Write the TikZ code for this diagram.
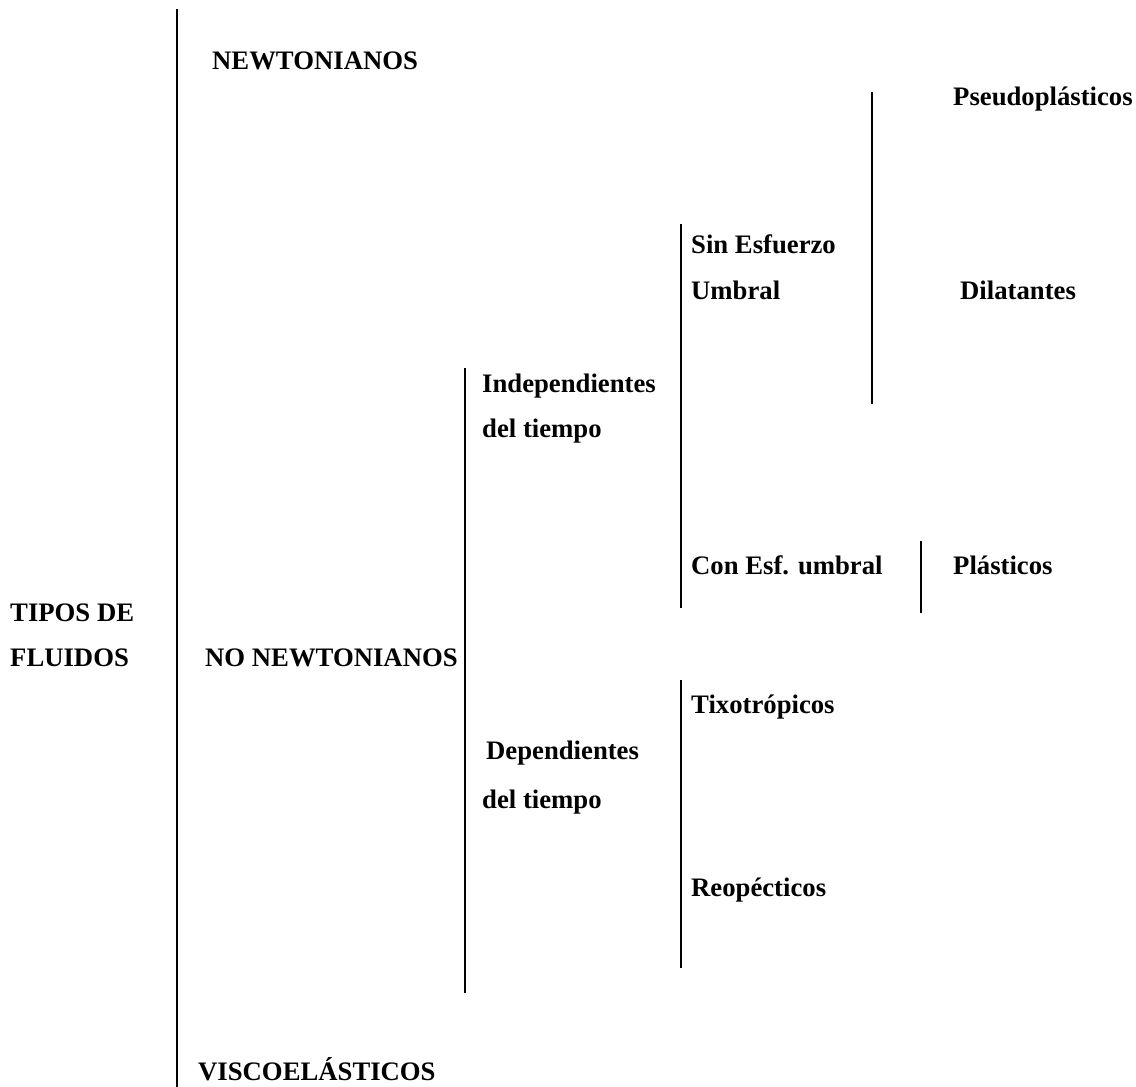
\documentclass[tikz,border=0pt]{standalone}
\usepackage{fontspec}
\setmainfont{Liberation Serif}
\begin{document}
\begin{tikzpicture}[x=1pt,y=-1pt,
  lbl/.style={anchor=base west,inner sep=0pt,font=\fontsize{26.7}{32}\selectfont\bfseries},
  bar/.style={line width=1.8pt}]
\useasboundingbox[fill=white] (0,0) rectangle (1136,1087);
% texts
\node[lbl] (newt) at (212,69) {NEWTONIANOS};
\node[lbl] (tipos1) at (10,621) {TIPOS DE};
\node[lbl] (tipos2) at (10,666) {FLUIDOS};
\node[lbl] (nonewt) at (205,666) {NO NEWTONIANOS};
\node[lbl] (visco) at (198,1080) {VISCOEL\'ASTICOS};
\node[lbl] (indep1) at (482,392) {Independientes};
\node[lbl] (indep2) at (482,437) {del tiempo};
\node[lbl] (dep1) at (486,759) {Dependientes};
\node[lbl] (dep2) at (482,808) {del tiempo};
\node[lbl] (sin1) at (691,253) {Sin Esfuerzo};
\node[lbl] (sin2) at (691,299) {Umbral};
\node[lbl] (con) at (691,574) {Con Esf. umbral};
\node[lbl] (tixo) at (691,713) {Tixotr\'opicos};
\node[lbl] (reo) at (691,896) {Reop\'ecticos};
\node[lbl] (pseudo) at (953,105) {Pseudopl\'asticos};
\node[lbl] (dila) at (960,299) {Dilatantes};
\node[lbl] (plas) at (953,574) {Pl\'asticos};
% bracket lines
\coordinate (b0t) at (177,9);   \coordinate (b0b) at (177,1087);
\coordinate (b1t) at (465,368); \coordinate (b1b) at (465,993);
\coordinate (b2t) at (681,224); \coordinate (b2b) at (681,608);
\coordinate (b3t) at (872,92);  \coordinate (b3b) at (872,404);
\coordinate (b4t) at (921,541); \coordinate (b4b) at (921,613);
\coordinate (b5t) at (681,680); \coordinate (b5b) at (681,968);
\draw[bar] (b0t) -- (b0b);
\draw[bar] (b1t) -- (b1b);
\draw[bar] (b2t) -- (b2b);
\draw[bar] (b3t) -- (b3b);
\draw[bar] (b4t) -- (b4b);
\draw[bar] (b5t) -- (b5b);
\end{tikzpicture}
\end{document}
